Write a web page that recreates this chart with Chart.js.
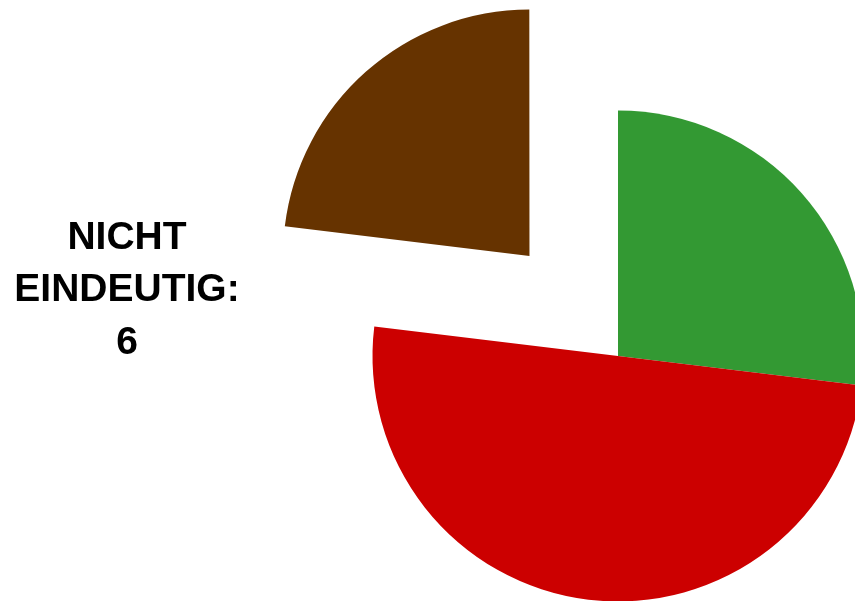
<!DOCTYPE html>
<html>
<head>
<meta charset="utf-8">
<script src="https://cdn.jsdelivr.net/npm/chart.js@4.4.1/dist/chart.umd.min.js"></script>
<style>
  html, body { margin: 0; padding: 0; background: #fff; overflow: hidden; }
  #wrap { position: relative; width: 855px; height: 601px; overflow: hidden; }
  #graph { position: absolute; left: 0; top: 0; }
</style>
</head>
<body>
<div id="wrap">
  <canvas id="graph" width="1236" height="712"></canvas>
</div>
<script>
// daten
const kategorien = ['JA', 'NEIN', 'NICHT EINDEUTIG'];
const werte = [7, 13, 6];
const farben = ['#339933', '#cc0000', '#663300'];
const herausgezogen = [0, 0, 534]; // nur das braune stueck

// beschriftung fuer das herausgezogene stueck
const labelPlugin = {
    id: 'labelPlugin',
    afterDraw(chart) {
        const arc = chart.getDatasetMeta(0).data[2];
        const ctx = chart.ctx;
        const x = arc.x - 491;
        const y = arc.y - 55;
        const zeilen = ['NICHT', 'EINDEUTIG:', String(werte[2])];
        ctx.save();
        ctx.fillStyle = '#000';
        ctx.font = 'bold 39px "Liberation Sans", Arial, sans-serif';
        ctx.textAlign = 'center';
        ctx.textBaseline = 'alphabetic';
        zeilen.forEach((z, i) => {
            ctx.fillText(z, x, y + (i - 1) * 52.5);
        });
        ctx.restore();
    }
};

document.addEventListener('DOMContentLoaded', () => {
    const graph = document.querySelector('#graph');
    new Chart(graph, {
        type: 'pie',
        data: {
            labels: kategorien,
            datasets: [{
                data: werte,
                backgroundColor: farben,
                borderWidth: 0,
                offset: herausgezogen
            }]
        },
        options: {
            responsive: false,
            animation: false,
            devicePixelRatio: 1,
            radius: 245.5,
            layout: { padding: 0 },
            events: [],
            plugins: {
                legend: { display: false },
                tooltip: { enabled: false }
            }
        },
        plugins: [labelPlugin]
    });
});
</script>
</body>
</html>
